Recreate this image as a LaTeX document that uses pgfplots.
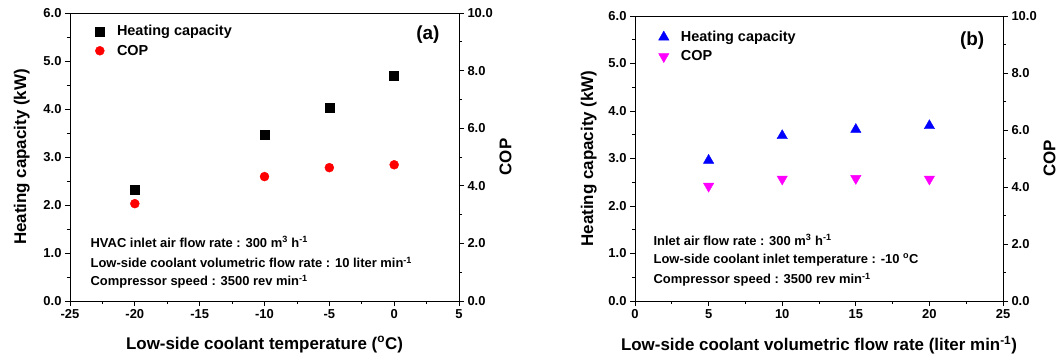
\documentclass[border=0pt]{standalone}
\usepackage{fontspec}
\setmainfont{Liberation Sans}
\usepackage{pgfplots}
\pgfplotsset{compat=1.18}
\definecolor{mag}{rgb}{1,0,1}
\definecolor{pureblue}{rgb}{0,0,1}
\definecolor{purered}{rgb}{1,0,0}
\tikzset{ann/.style={anchor=west, font=\bfseries\fontsize{13}{13}\selectfont}}
\begin{document}
\begin{tikzpicture}[x=1bp,y=1bp]
\useasboundingbox (0,0) rectangle (1058,360);
\pgfplotsset{
  base/.style={scale only axis,
    /pgf/number format/assume math mode=true,
    ticklabel style={font=\bfseries\fontsize{13}{13}\selectfont},
    label style={font=\bfseries\fontsize{17}{17}\selectfont},
    tick align=outside, major tick length=5bp, minor tick length=3bp,
    every tick/.style={black, line width=0.7pt},
    axis line style={line width=0.9pt},
    yticklabel style={/pgf/number format/.cd, fixed, fixed zerofill, precision=1},
  },
  leg/.style={legend style={at={(rel axis cs:#1)}, anchor=north west, draw=none, fill=none,
      font=\bfseries\fontsize{14.5}{14.5}\selectfont, row sep=0bp,
      nodes={text height=11.5bp, text depth=3bp, inner ysep=2.5bp}},
    legend cell align=left,
    legend image code/.code={\path (0bp,0bp) (22bp,0bp);\draw[mark repeat=2,mark phase=2,##1] plot coordinates {(0bp,0bp) (7bp,0bp) (18bp,0bp)};}},
}
% ---------------- Panel (a)
\begin{axis}[base, at={(70bp,59bp)}, anchor=south west, width=389bp, height=288bp,
  xmin=-25, xmax=5, ymin=0, ymax=6,
  xtick={-25,-20,...,5}, ytick={0,1,...,6}, minor x tick num=1, minor y tick num=1,
  xtick pos=bottom, ytick pos=left,
  xlabel={Low-side coolant temperature (\textsuperscript{o}C)},
  ylabel={Heating capacity (kW)},
  xlabel style={yshift=-11bp}, ylabel style={yshift=7bp},
  leg={0.05,0.978}]
\addplot[only marks, mark=square*, black, mark size=4.5bp] coordinates {(-20,2.32) (-10,3.47) (-5,4.02) (0,4.70)};
\addlegendentry{Heating capacity}
\addlegendimage{only marks, mark=*, purered, mark size=4.5bp}
\addlegendentry{COP}
\node[ann] at (rel axis cs:0.044,0.205) {HVAC inlet air flow rate : 300 m\textsuperscript{3} h\textsuperscript{-1}};
\node[ann] at (rel axis cs:0.044,0.135) {Low-side coolant volumetric flow rate : 10 liter min\textsuperscript{-1}};
\node[ann] at (rel axis cs:0.044,0.066) {Compressor speed : 3500 rev min\textsuperscript{-1}};
\node[font=\bfseries\fontsize{19}{19}\selectfont] at (rel axis cs:0.920,0.925) {(a)};
\end{axis}
\begin{axis}[base, at={(70bp,59bp)}, anchor=south west, width=389bp, height=288bp,
  xmin=-25, xmax=5, ymin=0, ymax=10, axis y line*=right, axis x line=none,
  ytick={0,2,...,10}, minor y tick num=1, ylabel={COP}]
\addplot[only marks, mark=*, purered, mark size=4.5bp] coordinates {(-20,3.38) (-10,4.32) (-5,4.63) (0,4.73)};
\end{axis}
% ---------------- Panel (b)
\begin{axis}[base, at={(635bp,59bp)}, anchor=south west, width=368bp, height=285bp,
  xmin=0, xmax=25, ymin=0, ymax=6,
  xtick={0,5,...,25}, ytick={0,1,...,6}, minor x tick num=1, minor y tick num=1,
  xtick pos=bottom, ytick pos=left,
  xlabel={Low-side coolant volumetric flow rate (liter min\textsuperscript{-1})},
  ylabel={Heating capacity (kW)},
  xlabel style={yshift=-11bp}, ylabel style={yshift=5bp},
  leg={0.05,0.968}]
\addplot[only marks, mark=triangle*, pureblue, mark size=6bp] coordinates {(5,2.96) (10,3.48) (15,3.61) (20,3.69)};
\addlegendentry{Heating capacity}
\addlegendimage{only marks, mark=triangle*, mag, mark size=6bp, mark options={rotate=180}}
\addlegendentry{COP}
\node[ann] at (rel axis cs:0.041,0.214) {Inlet air flow rate : 300 m\textsuperscript{3} h\textsuperscript{-1}};
\node[ann] at (rel axis cs:0.041,0.144) {Low-side coolant inlet temperature : -10 \textsuperscript{o}C};
\node[ann] at (rel axis cs:0.041,0.074) {Compressor speed : 3500 rev min\textsuperscript{-1}};
\node[font=\bfseries\fontsize{19}{19}\selectfont] at (rel axis cs:0.916,0.912) {(b)};
\end{axis}
\begin{axis}[base, at={(635bp,59bp)}, anchor=south west, width=368bp, height=285bp,
  xmin=0, xmax=25, ymin=0, ymax=10, axis y line*=right, axis x line=none,
  ytick={0,2,...,10}, minor y tick num=1, ylabel={COP}]
\addplot[only marks, mark=triangle*, mag, mark size=6bp, mark options={rotate=180}] coordinates {(5,4.03) (10,4.28) (15,4.30) (20,4.28)};
\end{axis}
\end{tikzpicture}
\end{document}
